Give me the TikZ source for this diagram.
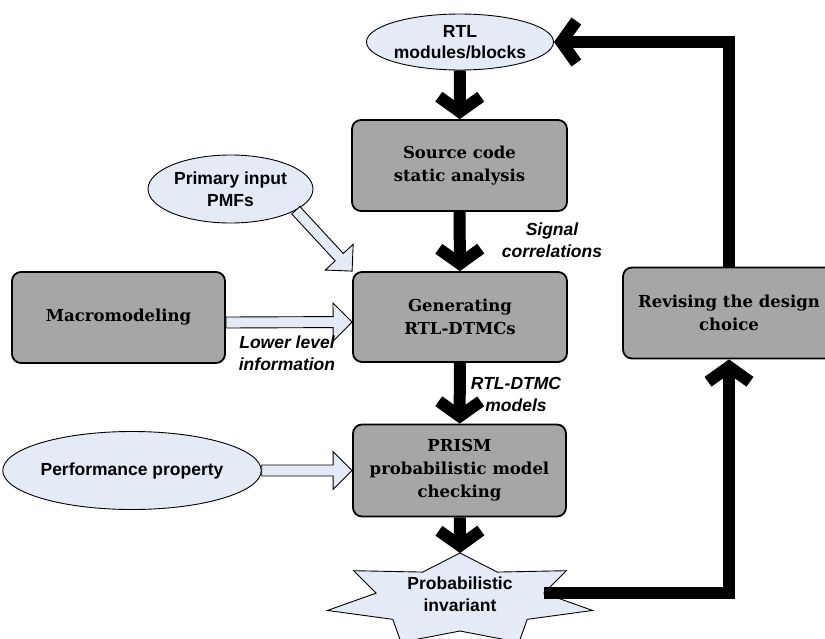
\documentclass[tikz,border=0pt]{standalone}
\usepackage{fontspec}
\setmainfont{DejaVu Serif}[BoldFont={DejaVu Serif Bold}]
\newfontfamily\labelfont{Liberation Sans}
\usetikzlibrary{arrows.meta,calc,shapes.geometric}

\definecolor{boxgray}{HTML}{A6A6A6}
\definecolor{paleblue}{HTML}{E4EAF6}

\newcommand\sansbf{\labelfont\bfseries\fontsize{17.5}{21.5}\selectfont}
\newcommand\sansbfit{\labelfont\bfseries\itshape\fontsize{17.5}{22}\selectfont}

% hollow (outlined) block arrow from #1 to #2
\newcommand\hollowarrow[2]{%
  \coordinate (hneck) at ($(#2)!19pt!(#1)$);
  \draw[hollow] ($(#1)!5.5pt!90:(#2)$) -- ($(hneck)!5.5pt!-90:(#1)$)
    -- ($(hneck)!19pt!-90:(#1)$) -- (#2) -- ($(hneck)!19pt!90:(#1)$)
    -- ($(hneck)!5.5pt!90:(#1)$) -- ($(#1)!5.5pt!-90:(#2)$) -- cycle;}

\tikzset{
  procbox/.style={draw, line width=1.8pt, fill=boxgray, rounded corners=9pt,
    inner sep=0pt, align=center, font=\bfseries\fontsize{16.5}{23}\selectfont},
  inputell/.style={ellipse, draw, line width=0.9pt, fill=paleblue,
    inner sep=0pt, align=center, font=\sansbf},
  note/.style={align=center, font=\sansbfit},
  flow/.style={line width=12pt, -{Straight Barb[length=15pt,width=42pt]}},
  hollow/.style={draw, line width=0.9pt, fill=paleblue, line join=miter},
  invstar/.style={draw, line width=0.9pt, fill=paleblue, line join=miter},
}

\begin{document}
\begin{tikzpicture}[x=1pt,y=-1pt]
\useasboundingbox (0,0) rectangle (825,638);

% inputs
\node[inputell, minimum width=174pt, minimum height=56pt] (rtl) at (460,42) {RTL\\modules/blocks};
\node[inputell, minimum width=165pt, minimum height=68pt] (pmf) at (230.5,189) {Primary input\\PMFs};
\node[inputell, minimum width=242pt, minimum height=78pt] (perf) at (132,470.5) {Performance property};

% processing steps
\node[procbox, minimum width=215pt, minimum height=91pt] (src) at (459.5,165.5) {Source code\\static analysis};
\node[procbox, minimum width=214pt, minimum height=90pt] (gen) at (460,317) {Generating\\RTL-DTMCs};
\node[procbox, minimum width=213pt, minimum height=91pt] (macro) at (118.5,317.5) {Macromodeling};
\node[procbox, minimum width=213pt, minimum height=92pt] (prism) at (459.5,470.5) {PRISM\\probabilistic model\\checking};
\node[procbox, minimum width=212pt, minimum height=91pt] (rev) at (729,313) {Revising the design\\choice};

% result: seven-point star
\coordinate (starc) at (460,600);
\draw[invstar] ($(starc)+(0,-47)$)
  \foreach \i [evaluate=\i as \ang using {-90+\i*360/14},
               evaluate=\i as \rx using {136-50*mod(\i,2)},
               evaluate=\i as \ry using {47-16*mod(\i,2)}] in {1,...,13}
  { -- ($(starc)+({\rx*cos(\ang)},{\ry*sin(\ang)})$) } -- cycle;
\coordinate (starT) at ($(starc)+(0,-47)$);
\coordinate (starR) at ($(starc)+(83.8,-6.9)$);
\node[font=\sansbf, align=center] (inv) at (460,594) {Probabilistic\\invariant};

% main flow
\draw[flow] (rtl) -- (src);
\draw[flow] (src) -- (gen);
\draw[flow] (gen) -- (prism);
\draw[flow] (prism) -- (starT);

% feedback loop
\draw[flow] (starR) -| (rev.south);
\draw[flow] (rev.north) |- (rtl.east);

% side inputs
\coordinate (macroout) at ($(macro.east)+(0,5)$);
\coordinate (genin) at ($(gen.west)+(0,5)$);
\hollowarrow{macroout}{genin}
\hollowarrow{pmf.-18}{gen.north west}
\hollowarrow{perf.east}{prism.west}

% edge labels
\node[note] (lsig) at (552,240) {Signal\\correlations};
\node[note] (llow) at (287,353) {Lower level\\information};
\node[note] (lmod) at (516,394) {RTL-DTMC\\models};
\end{tikzpicture}
\end{document}
